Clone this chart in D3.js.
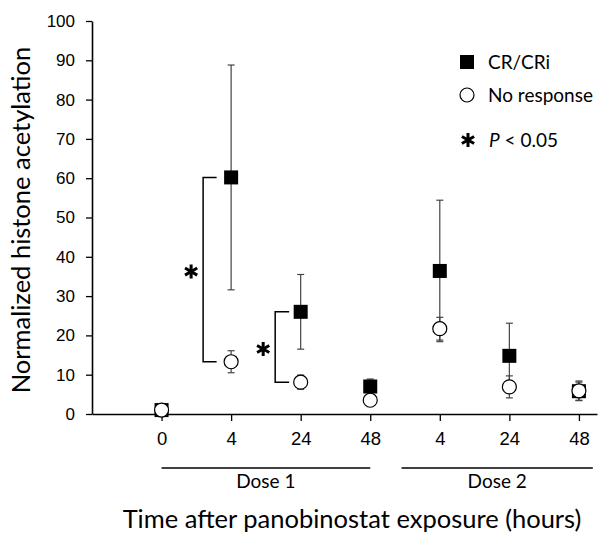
<!DOCTYPE html>
<html>
<head>
<meta charset="utf-8">
<script src="https://cdn.jsdelivr.net/npm/d3@7"></script>
<style>
  body { margin: 0; background: #fff; }
  svg { font-family: Lato, "Open Sans", sans-serif; }
</style>
</head>
<body>
<svg id="chart" width="603" height="535"></svg>
<script>
// time points on the x axis (two doses)
var timeLabels = ["0", "4", "24", "48", "4", "24", "48"];
var yTicks = [0, 10, 20, 30, 40, 50, 60, 70, 80, 90, 100];

// CR/CRi (filled squares)
var crMean = [1, 60.2, 26, 7, 36.4, 14.8, 5.8];
var crErr  = [0.5, 28.6, 9.5, 1.9, 18, 8.3, 2.3];

// No response (open circles)
var noMean = [1, 13.3, 8.1, 3.5, 21.7, 6.9, 5.9];
var noErr  = [0.3, 2.8, 1.8, 0.6, 2.9, 2.8, 2.5];

// doses: first and last index each line covers
var doses = [{label: "Dose 1", from: 0, to: 3}, {label: "Dose 2", from: 3.45, to: 6.2}];

// significant pairs (index of time point)
var sigIdx = [1, 2];

var svg = d3.select("#chart");

var x = d3.scaleLinear().domain([-1, 6.26]).range([92, 597]);
var y = d3.scaleLinear().domain([0, 100]).range([414, 21]);

// axes
var yAxis = svg.append("g")
  .attr("transform", "translate(92,0)")
  .call(d3.axisLeft(y).tickValues(yTicks).tickSize(6).tickSizeOuter(0).tickPadding(11));
yAxis.selectAll("text").style("font-size", "17px").attr("fill", "#000");
yAxis.selectAll("line").attr("stroke", "#000").attr("stroke-width", 1.3);
yAxis.select(".domain").attr("stroke", "#000").attr("stroke-width", 1.6);

var xAxis = svg.append("g")
  .attr("transform", "translate(0,414)")
  .call(d3.axisBottom(x).tickValues(d3.range(timeLabels.length))
    .tickFormat(function(i) { return timeLabels[i]; })
    .tickSize(7).tickSizeOuter(0).tickPadding(11));
xAxis.selectAll("text").style("font-size", "18.5px").attr("fill", "#000");
xAxis.selectAll("line").attr("stroke", "#000").attr("stroke-width", 1.3);
xAxis.select(".domain").attr("stroke", "#000").attr("stroke-width", 1.6);

// dose lines
doses.forEach(function(d) {
  svg.append("line")
    .attr("x1", x(d.from)).attr("x2", x(d.to))
    .attr("y1", 468).attr("y2", 468)
    .attr("stroke", "#000").attr("stroke-width", 1.5);
  svg.append("text")
    .attr("x", (x(d.from) + x(d.to)) / 2).attr("y", 488)
    .attr("text-anchor", "middle")
    .style("font-size", "19px")
    .text(d.label);
});

// axis titles
svg.append("text")
  .attr("x", 352).attr("y", 528)
  .attr("text-anchor", "middle")
  .style("font-size", "25.5px")
  .text("Time after panobinostat exposure (hours)");

svg.append("text")
  .attr("transform", "translate(30,220) rotate(-90)")
  .attr("text-anchor", "middle")
  .style("font-size", "25.5px")
  .text("Normalized histone acetylation");

// error bars
var drawErr = function(mean, err) {
  var g = svg.append("g").attr("stroke", "#444").attr("stroke-width", 1.2);
  mean.forEach(function(m, i) {
    var cx = x(i);
    g.append("line").attr("x1", cx).attr("x2", cx)
      .attr("y1", y(m + err[i])).attr("y2", y(m - err[i]));
    [m + err[i], m - err[i]].forEach(function(v) {
      g.append("line").attr("x1", cx - 3.5).attr("x2", cx + 3.5)
        .attr("y1", y(v)).attr("y2", y(v));
    });
  });
};
drawErr(crMean, crErr);
drawErr(noMean, noErr);

// squares
svg.append("g").selectAll("rect")
  .data(crMean)
  .enter()
  .append("rect")
  .attr("x", function(d, i) { return x(i) - 7; })
  .attr("y", function(d) { return y(d) - 7; })
  .attr("width", 14).attr("height", 14)
  .attr("fill", "#000");

// circles
svg.append("g").selectAll("circle")
  .data(noMean)
  .enter()
  .append("circle")
  .attr("cx", function(d, i) { return x(i); })
  .attr("cy", function(d) { return y(d); })
  .attr("r", 7)
  .attr("fill", "#fff")
  .attr("stroke", "#000")
  .attr("stroke-width", 1.2);

// significance brackets
var star = d3.symbol().type(d3.symbolAsterisk).size(140);
sigIdx.forEach(function(i, k) {
  var bx = x(i) - (k == 0 ? 28 : 25.5);
  var armEnd = x(i) - (k == 0 ? 14.5 : 11.5);
  var y1 = y(crMean[i]), y2 = y(noMean[i]);
  svg.append("path")
    .attr("d", "M" + armEnd + "," + y1 + "H" + bx + "V" + y2 + "H" + armEnd)
    .attr("fill", "none").attr("stroke", "#000").attr("stroke-width", 1.5);
  svg.append("path")
    .attr("d", star)
    .attr("transform", "translate(" + (bx - 12) + "," + ((y1 + y2) / 2 + 2) + ")")
    .attr("fill", "none").attr("stroke", "#000").attr("stroke-width", 3);
});

// legend
var legend = svg.append("g").style("font-size", "19px");
legend.append("rect").attr("x", 460).attr("y", 55).attr("width", 14).attr("height", 14).attr("fill", "#000");
legend.append("text").attr("x", 488).attr("y", 62).attr("dy", "0.35em").text("CR/CRi");
legend.append("circle").attr("cx", 467).attr("cy", 95).attr("r", 7)
  .attr("fill", "#fff").attr("stroke", "#000").attr("stroke-width", 1.2);
legend.append("text").attr("x", 488).attr("y", 95).attr("dy", "0.35em").text("No response");
legend.append("path").attr("d", star)
  .attr("transform", "translate(468,140)")
  .attr("fill", "none").attr("stroke", "#000").attr("stroke-width", 3);
var pt = legend.append("text").attr("x", 489).attr("y", 140).attr("dy", "0.35em");
pt.append("tspan").style("font-style", "italic").text("P");
pt.append("tspan").text(" < 0.05");
</script>
</body>
</html>
